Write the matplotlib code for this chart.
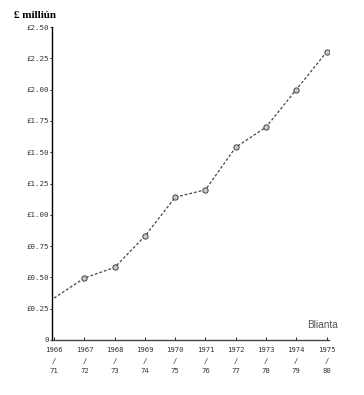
import matplotlib

matplotlib.use("Agg")
import matplotlib.pyplot as plt

# blianta airgeadais 1966/71 .. 1975/80
years = [1966, 1967, 1968, 1969, 1970, 1971, 1972, 1973, 1974, 1975]
year_labels = ["1966\n/\n71", "1967\n/\n72", "1968\n/\n73", "1969\n/\n74", "1970\n/\n75",
               "1971\n/\n76", "1972\n/\n77", "1973\n/\n78", "1974\n/\n79", "1975\n/\n80"]
values = [0.335, 0.495, 0.58, 0.83, 1.14, 1.20, 1.54, 1.70, 2.00, 2.30]

y_ticks = [0, 0.25, 0.5, 0.75, 1.0, 1.25, 1.5, 1.75, 2.0, 2.25, 2.5]
y_labels = ["0", "£0.25", "£0.50", "£0.75", "£1.00", "£1.25",
            "£1.50", "£1.75", "£2.00", "£2.25", "£2.50"]

fig = plt.figure(figsize=(3.64, 3.95), dpi=100)
ax = fig.add_axes([52 / 364, 55 / 395, 277 / 364, 313 / 395])

ax.plot(years, values, ls=(0, (2.2, 1.6)), lw=0.9, color="#444444")
ax.plot(years[1:], values[1:], ls="none", marker="o", ms=3.8,
        mfc="#c8c8c8", mec="#444444", mew=0.7)

ax.set_xlim(1965.93, 1975.08)
ax.set_ylim(0, 2.5)

for side in ("top", "right"):
    ax.spines[side].set_visible(False)
ax.spines["left"].set_linewidth(1.0)
ax.spines["bottom"].set_linewidth(1.0)
ax.spines["bottom"].set_color("#444444")

mono = "DejaVu Sans Mono"
ax.set_yticks(y_ticks)
ax.set_yticklabels(y_labels, family=mono, fontsize=5.4, color="#333333")
ax.set_xticks(years)
ax.set_xticklabels(year_labels, family=mono, fontsize=5.2, color="#333333",
                   linespacing=1.95)
ax.tick_params(axis="y", length=1.5, width=0.6, pad=1)
ax.tick_params(axis="x", direction="in", length=2, width=0.6, pad=5)

fig.text(14 / 364, 1 - 16 / 395, "£ milliún", family="Liberation Serif",
         fontsize=8, fontweight="bold", va="center", ha="left")
fig.text(307 / 364, 1 - 325 / 395, "Blianta", family="Liberation Sans",
         fontsize=7.2, color="#555555", va="center", ha="left")

fig.savefig("out.png", dpi=100)
